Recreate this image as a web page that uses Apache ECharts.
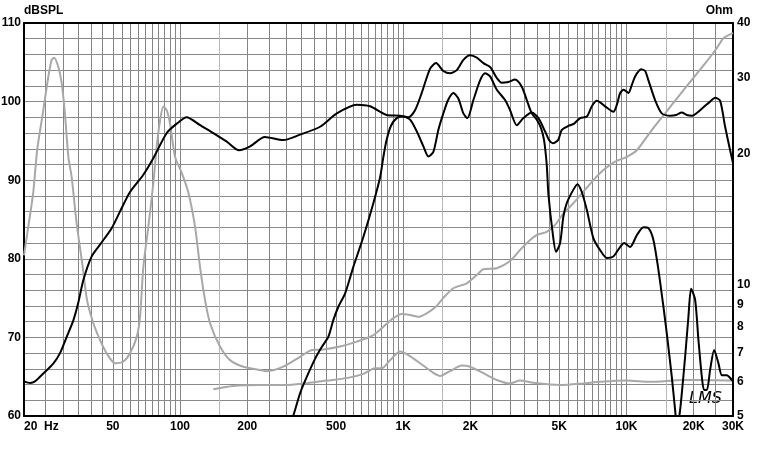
<!DOCTYPE html>
<html><head><meta charset="utf-8">
<script src="https://cdn.jsdelivr.net/npm/echarts@6/dist/echarts.min.js"></script>
<style>html,body{margin:0;padding:0;background:#fff}#c{width:763px;height:454px}</style>
</head><body><div id="c"></div>
<script>
// ---- tick labels ----
const freqLabelValues = [20, 50, 100, 200, 500, 1000, 2000, 5000, 10000, 20000, 30000];
const freqLabelTexts  = ['20  Hz', '50', '100', '200', '500', '1K', '2K', '5K', '10K', '20K', '30K'];
const ohmLabelValues  = [5, 6, 7, 8, 9, 10, 20, 30, 40];
// vertical grid lines (Hz)
const gridHzMain = [25,30,35,40,45,50,55,60,65,70,75,80,85,90,95,100,
  200,250,300,350,400,450,500,550,600,650,700,750,800,850,900,950,1000,
  2000,2500,3000,3500,4000,4500,5000,5500,6000,6500,7000,7500,8000,8500,9000,9500,10000,
  20000,25000];
const gridHzLight = [150, 1500, 15000];

// ---- series: [frequency Hz, value] ----
const wooferSPL = [
 [20,64.4],[21.3,64.2],[22.4,64.4],[24.4,65.4],[27.1,66.7],[29,68.0],[31.1,70.1],[33.3,72.2],[35,74.4],
 [36.9,77.3],[40.2,80.3],[43.8,81.8],[49.4,83.9],[53.8,86.0],[59.7,88.5],[68.5,90.7],[75.9,92.8],
 [87.2,96.0],[96.7,97.2],[107,98.0],[123,97.0],[141,96.0],[162,94.9],[184,93.8],[206,94.3],[240,95.5],
 [290,95.1],[345,95.8],[424,96.8],[504,98.5],[619,99.6],[710,99.4],[843,98.3],[968,98.2],[1054,98.0],
 [1129,98.9],[1210,101.1],[1319,104.2],[1402,104.9],[1512,103.9],[1621,103.6],[1737,104.0],[1859,105.3],
 [1992,105.9],[2135,105.6],[2285,104.9],[2449,104.4],[2625,103.0],[2761,102.4],[2956,102.5],[3168,102.8],
 [3395,101.9],[3575,100.2],[3765,98.5],[3965,97.7],[4144,96.6],[4273,95.1],[4394,91.9],[4467,88.3],
 [4674,83.2],[4836,80.9],[5042,82.0],[5217,85.4],[5403,87.1],[5782,88.8],[6027,89.5],[6307,88.5],
 [6644,86.2],[7110,82.6],[7618,81.1],[8161,80.1],[8734,80.3],[9365,81.5],[9757,82.0],[10383,81.5],
 [11123,83.0],[11913,84.0],[12539,83.9],[13202,82.4],[13900,78.6],[14636,73.9],[15153,70.5],[15954,65.0],
 [16507,60.8],[16849,58.5],[17393,60.8],[18304,67.5],[18939,72.6],[19475,76.2],[20296,74.8],[21000,69.7],
 [21747,65.0],[22270,63.3],[22899,63.3],[23703,65.9],[24700,68.4],[25820,66.7],[26740,65.2],[28150,65.2],
 [29640,64.6],[30000,64.4]
];
const tweeterSPL = [
 [314,59.5],[322,60.1],[345,62.9],[370,65.0],[403,67.3],[432,68.8],[462,70.1],[486,72.2],[512,73.9],
 [549,75.6],[598,79.0],[663,82.8],[735,87.1],[788,90.4],[815,93.0],[840,95.0],[880,96.9],[935,97.9],
 [1001,98.1],[1073,97.7],[1150,96.2],[1231,94.3],[1296,93.0],[1364,93.6],[1436,96.4],[1512,98.5],
 [1588,100.2],[1676,101.1],[1765,100.4],[1859,98.5],[1937,97.9],[2061,100.2],[2209,102.7],[2325,103.6],
 [2449,103.2],[2625,101.5],[2858,100.2],[3010,98.9],[3225,97.0],[3453,97.9],[3765,98.6],[4032,97.9],
 [4320,96.2],[4500,95.1],[4680,94.7],[4937,95.1],[5131,96.4],[5492,96.9],[5825,97.2],[6198,97.9],
 [6644,98.1],[6992,99.4],[7361,100.1],[7618,99.9],[8018,99.4],[8734,98.7],[9078,99.7],[9365,101.1],
 [9720,101.5],[10200,101.1],[10560,102.1],[10930,103.2],[11624,104.1],[12120,103.9],[12539,102.7],
 [13430,100.2],[14392,98.5],[15687,98.2],[16680,98.3],[17690,98.6],[18623,98.3],[19610,98.2],
 [21747,99.1],[23460,99.9],[24950,100.5],[26279,100.1],[27660,96.8],[29120,93.8],[30000,92.2]
];
const wooferOhm = [
 [20,11.7],[20.9,13.6],[22,16.3],[22.9,20.4],[24.4,25.2],[25.7,30.1],[26.6,32.9],[27.3,33.3],[28.5,31.7],
 [29.5,29.1],[30.5,24.8],[31.6,19.7],[32.7,17.7],[34.4,13.9],[36.3,11.4],[38.3,9.24],[40.9,8.17],
 [43.8,7.48],[46.9,6.97],[51.1,6.61],[55.7,6.67],[59.7,6.97],[64,7.6],[66.2,8.45],[68.5,11.0],[72.1,13.6],
 [75.9,17.1],[78.6,20.8],[81.4,23.9],[84.2,25.7],[87.2,25.2],[90.2,23.5],[95,19.7],[101.8,18.1],
 [109,16.3],[116.8,13.6],[122.9,11.0],[129.4,9.24],[136.3,8.17],[151,7.22],[167.5,6.72],[192,6.49],
 [228,6.38],[245,6.34],[290,6.49],[345,6.84],[390,7.09],[438,7.11],[521,7.22],[619,7.41],[735,7.67],
 [815,8.02],[903,8.39],[985,8.58],[1073,8.53],[1169,8.45],[1274,8.61],[1402,8.92],[1512,9.34],
 [1676,9.83],[1925,10.09],[2135,10.54],[2285,10.87],[2625,10.93],[3010,11.35],[3337,12.04],[3700,12.69],
 [3965,13.03],[4394,13.25],[4788,13.74],[5217,14.61],[5782,15.41],[6411,16.38],[7110,17.42],[7882,18.37],
 [8890,19.2],[10030,19.7],[11123,20.4],[12987,22.7],[14895,24.8],[17080,27.1],[19610,29.6],[22500,32.3],
 [25380,35.0],[27180,36.9],[30000,37.9]
];
const tweeterOhm = [
 [141,5.76],[173,5.86],[228,5.89],[290,5.89],[382,5.96],[454,6.03],[558,6.11],[663,6.25],[748,6.44],
 [801,6.44],[873,6.72],[968,7.03],[1054,6.9],[1190,6.61],[1342,6.32],[1462,6.18],[1621,6.34],
 [1828,6.53],[1992,6.49],[2285,6.27],[2625,6.05],[3010,5.94],[3337,6.03],[3828,5.96],[5042,5.89],
 [6411,5.94],[7618,5.99],[10030,6.03],[12762,5.99],[17990,6.05],[21379,6.05],[30000,6.03]
];

const FONT = 'Liberation Sans, Arial, sans-serif';
const labelStyle = {color:'#000', fontFamily: FONT, fontWeight:'bold', fontSize: 12};
const chart = echarts.init(document.getElementById('c'), null, {renderer:'canvas'});
const blackLine = (name, data, yi) => ({name, type:'line', data, yAxisIndex: yi, xAxisIndex:0,
  showSymbol:false, smooth:0.25, lineStyle:{color:'#000', width:2}, z:5, animation:false});
const grayLine = (name, data, yi) => ({name, type:'line', data, yAxisIndex: yi, xAxisIndex:0,
  showSymbol:false, smooth:0.25, lineStyle:{color:'#a8a8a8', width:2}, z:4, animation:false});

chart.setOption({
  animation:false,
  backgroundColor:'#fff',
  grid:{left:24, top:23, width:709, height:393, outerBoundsMode:'none', containLabel:false},
  xAxis:[
    {type:'log', logBase:10, min:20, max:30000, position:'bottom',
     axisLine:{show:true, onZero:false, lineStyle:{color:'#000', width:2}},
     axisTick:{show:false, customValues: gridHzMain},
     splitLine:{show:true, lineStyle:{color:'#858585', width:1}},
     axisLabel:{...labelStyle, margin:5, customValues: freqLabelValues, alignMinLabel:'left',
       formatter: v => { const i = freqLabelValues.findIndex(f => Math.abs(f - v) / f < 1e-6); return i >= 0 ? freqLabelTexts[i] : ''; }}},
    {type:'log', logBase:10, min:20, max:30000, position:'top',
     axisLine:{show:true, onZero:false, lineStyle:{color:'#000', width:2}},
     axisTick:{show:false, customValues: gridHzLight},
     splitLine:{show:true, lineStyle:{color:'#b8b8b8', width:1}},
     axisLabel:{show:false}}
  ],
  yAxis:[
    {type:'value', min:60, max:110, interval:2, position:'left',
     name:'dBSPL', nameLocation:'end', nameGap:5,
     nameTextStyle:{...labelStyle, align:'left'},
     axisLine:{show:true, lineStyle:{color:'#000', width:2}},
     axisTick:{show:false},
     splitLine:{show:true, lineStyle:{color:'#8a8a8a', width:1}},
     axisLabel:{...labelStyle, margin:3, formatter: v => (v % 10 === 0 ? String(v) : '')}},
    {type:'log', logBase:10, min:5, max:40, position:'right',
     name:'Ohm', nameLocation:'end', nameGap:5,
     nameTextStyle:{...labelStyle, align:'right'},
     axisLine:{show:true, lineStyle:{color:'#000', width:2}},
     axisTick:{show:false},
     splitLine:{show:false},
     axisLabel:{...labelStyle, margin:4, customValues: ohmLabelValues, formatter: v => String(Math.round(v))}}
  ],
  graphic:[{type:'text', left:689, top:391, style:{text:'LMS', fill:'#000', font:'italic 16px "DejaVu Sans"'}}],
  series:[
    grayLine('Woofer impedance', wooferOhm, 1),
    grayLine('Tweeter impedance', tweeterOhm, 1),
    blackLine('Woofer SPL', wooferSPL, 0),
    blackLine('Tweeter SPL', tweeterSPL, 0)
  ]
});
</script></body></html>
